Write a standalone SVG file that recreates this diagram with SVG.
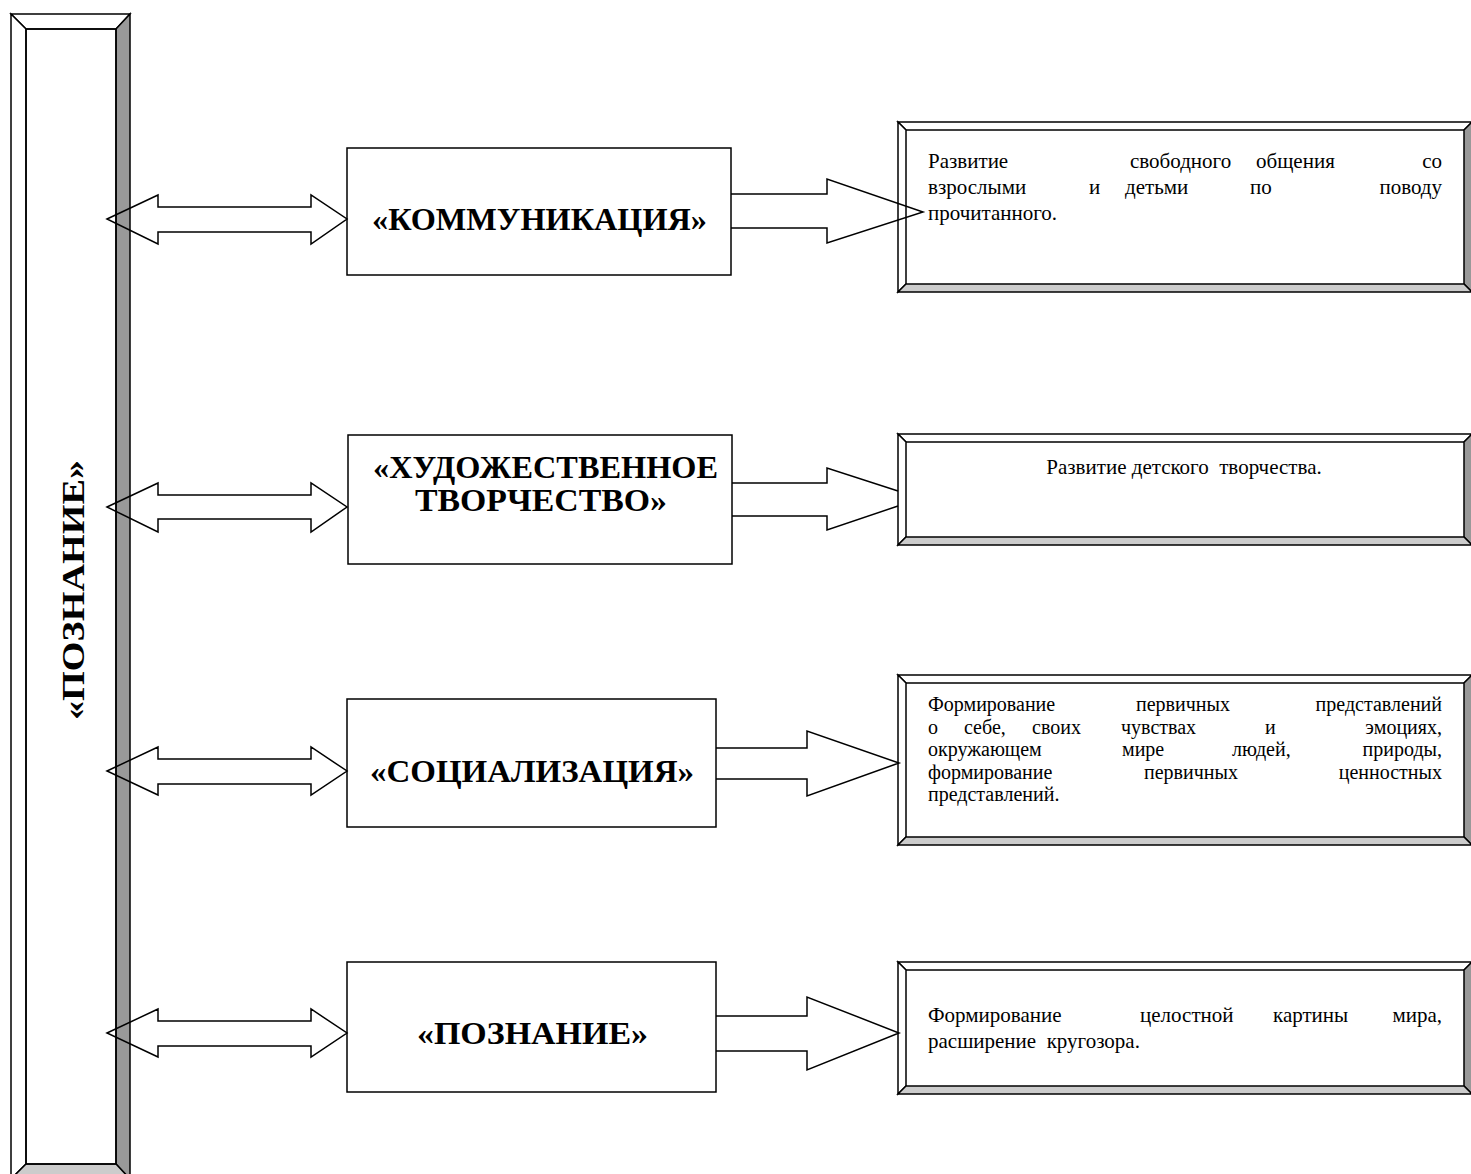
<svg xmlns="http://www.w3.org/2000/svg" width="1471" height="1174" viewBox="0 0 1471 1174">
<style>
.ln{stroke:#000;stroke-width:1.5;stroke-linejoin:miter}
.lt{fill:#fff}
.dk{fill:#999}
.md{fill:#ccc}
.box{fill:#fff;stroke:#000;stroke-width:1.5}
.arr{fill:none;stroke:#000;stroke-width:1.5;stroke-linejoin:miter}
.hd{font-family:"Liberation Serif","Times New Roman",serif;font-weight:bold;font-size:32px;fill:#000}
.tx{font-family:"Liberation Serif","Times New Roman",serif;font-size:21px;fill:#000}
.t3{font-family:"Liberation Serif","Times New Roman",serif;font-size:20px;fill:#000}
</style>
<rect width="1471" height="1174" fill="#fff"/>
<g id="bar">
<rect x="26" y="29" width="90" height="1135" fill="#fff"/>
<polygon class="ln lt" points="11,14 130,14 116,29 26,29"/>
<polygon class="ln lt" points="11,14 26,29 26,1164 11,1179"/>
<polygon class="ln dk" points="130,14 130,1179 116,1164 116,29"/>
<polygon class="ln md" points="11,1179 26,1164 116,1164 130,1179"/>
<rect x="26" y="29" width="90" height="1135" fill="none" class="ln"/>
<text class="hd" font-size="40" text-anchor="middle" textLength="260" lengthAdjust="spacingAndGlyphs" transform="translate(84,590) rotate(-90)">«ПОЗНАНИЕ»</text>
</g>
<g id="n1">
<rect class="box" x="347" y="148" width="384" height="127"/>
<text class="hd" x="539.5" y="230" text-anchor="middle" textLength="335" lengthAdjust="spacingAndGlyphs">«КОММУНИКАЦИЯ»</text>
</g>
<g id="n2">
<rect class="box" x="348" y="435" width="384" height="129"/>
<text class="hd" x="545.5" y="478" text-anchor="middle" textLength="345" lengthAdjust="spacingAndGlyphs">«ХУДОЖЕСТВЕННОЕ</text>
<text class="hd" x="541" y="511" text-anchor="middle" textLength="252" lengthAdjust="spacingAndGlyphs">ТВОРЧЕСТВО»</text>
</g>
<g id="n3">
<rect class="box" x="347" y="699" width="369" height="128"/>
<text class="hd" x="532" y="782" text-anchor="middle" textLength="324" lengthAdjust="spacingAndGlyphs">«СОЦИАЛИЗАЦИЯ»</text>
</g>
<g id="n4">
<rect class="box" x="347" y="962" width="369" height="130"/>
<text class="hd" x="532.5" y="1044" text-anchor="middle" textLength="231" lengthAdjust="spacingAndGlyphs">«ПОЗНАНИЕ»</text>
</g>
<g id="r1">
<rect x="906" y="130" width="558" height="154" fill="#fff"/>
<polygon class="ln lt" points="898,122 1472,122 1464,130 906,130"/>
<polygon class="ln lt" points="898,122 906,130 906,284 898,292"/>
<polygon class="ln dk" points="1472,122 1472,292 1464,284 1464,130"/>
<polygon class="ln md" points="898,292 906,284 1464,284 1472,292"/>
<text class="tx" y="168"><tspan x="928">Развитие</tspan><tspan x="1130">свободного</tspan><tspan x="1256">общения</tspan></text>
<text class="tx" x="1442" y="168" text-anchor="end">со</text>
<text class="tx" y="194"><tspan x="928">взрослыми</tspan><tspan x="1089">и</tspan><tspan x="1125">детьми</tspan><tspan x="1250">по</tspan></text>
<text class="tx" x="1442" y="194" text-anchor="end">поводу</text>
<text class="tx" x="928" y="220">прочитанного.</text>
</g>
<g id="r2">
<rect x="906" y="442" width="558" height="95" fill="#fff"/>
<polygon class="ln lt" points="898,434 1472,434 1464,442 906,442"/>
<polygon class="ln lt" points="898,434 906,442 906,537 898,545"/>
<polygon class="ln dk" points="1472,434 1472,545 1464,537 1464,442"/>
<polygon class="ln md" points="898,545 906,537 1464,537 1472,545"/>
<text class="tx" font-size="22" x="1184" y="474" text-anchor="middle" xml:space="preserve">Развитие детского  творчества.</text>
</g>
<g id="r3">
<rect x="906" y="683" width="558" height="154" fill="#fff"/>
<polygon class="ln lt" points="898,675 1472,675 1464,683 906,683"/>
<polygon class="ln lt" points="898,675 906,683 906,837 898,845"/>
<polygon class="ln dk" points="1472,675 1472,845 1464,837 1464,683"/>
<polygon class="ln md" points="898,845 906,837 1464,837 1472,845"/>
<text class="t3" y="711"><tspan x="928">Формирование</tspan><tspan x="1136">первичных</tspan></text>
<text class="t3" x="1442" y="711" text-anchor="end">представлений</text>
<text class="t3" y="733.5"><tspan x="928">о</tspan><tspan x="964">себе,</tspan><tspan x="1032">своих</tspan><tspan x="1121">чувствах</tspan><tspan x="1265">и</tspan></text>
<text class="t3" x="1442" y="733.5" text-anchor="end">эмоциях,</text>
<text class="t3" y="756"><tspan x="928">окружающем</tspan><tspan x="1122">мире</tspan><tspan x="1232">людей,</tspan></text>
<text class="t3" x="1442" y="756" text-anchor="end">природы,</text>
<text class="t3" y="778.5"><tspan x="928">формирование</tspan><tspan x="1144">первичных</tspan></text>
<text class="t3" x="1442" y="778.5" text-anchor="end">ценностных</text>
<text class="t3" x="928" y="801">представлений.</text>
</g>
<g id="r4">
<rect x="906" y="970" width="558" height="116" fill="#fff"/>
<polygon class="ln lt" points="898,962 1472,962 1464,970 906,970"/>
<polygon class="ln lt" points="898,962 906,970 906,1086 898,1094"/>
<polygon class="ln dk" points="1472,962 1472,1094 1464,1086 1464,970"/>
<polygon class="ln md" points="898,1094 906,1086 1464,1086 1472,1094"/>
<text class="tx" y="1022"><tspan x="928">Формирование</tspan><tspan x="1140">целостной</tspan><tspan x="1273">картины</tspan></text>
<text class="tx" x="1442" y="1022" text-anchor="end">мира,</text>
<text class="tx" x="928" y="1048" xml:space="preserve">расширение  кругозора.</text>
</g>
<g id="connectors">
<polygon class="arr" points="107,219 158,195 158,207 311,207 311,195 347,219 311,244 311,232 158,232 158,244"/>
<polygon class="arr" points="107,507 158,483 158,495 311,495 311,483 347,507 311,532 311,519 158,519 158,532"/>
<polygon class="arr" points="107,771 158,747 158,759 311,759 311,747 347,771 311,795 311,784 158,784 158,795"/>
<polygon class="arr" points="107,1033 158,1009 158,1021 311,1021 311,1009 347,1033 311,1057 311,1046 158,1046 158,1057"/>
<polyline class="arr" points="731,194 827,194 827,179 923,212 827,243 827,228 731,228"/>
<polyline class="arr" points="732,483 827,483 827,468 898,491"/>
<polyline class="arr" points="898,506 827,530 827,516 732,516"/>
<polyline class="arr" points="716,748 807,748 807,731 899,763 807,796 807,779 716,779"/>
<polyline class="arr" points="716,1016 807,1016 807,997 899,1033 807,1070 807,1051 716,1051"/>
</g>
</svg>
